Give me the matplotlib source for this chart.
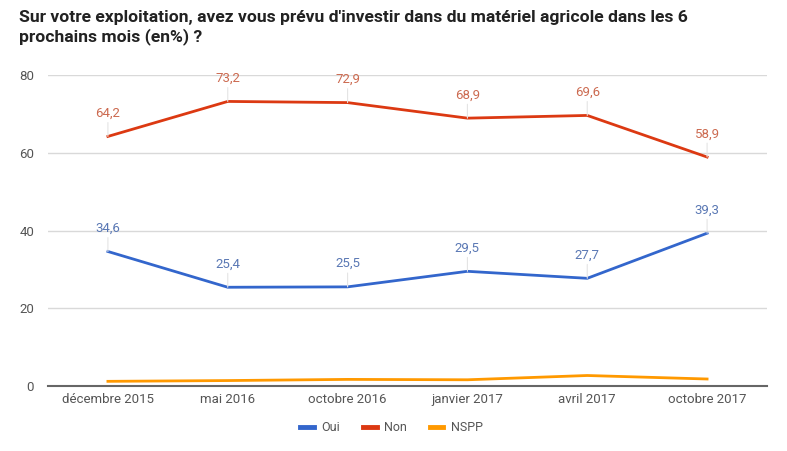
import matplotlib.pyplot as plt

# Data
periods = ["décembre 2015", "mai 2016", "octobre 2016", "janvier 2017", "avril 2017", "octobre 2017"]
oui = [34.6, 25.4, 25.5, 29.5, 27.7, 39.3]
non = [64.2, 73.2, 72.9, 68.9, 69.6, 58.9]
nspp = [1.2, 1.4, 1.7, 1.6, 2.7, 1.8]
yticks = [0, 20, 40, 60, 80]

plt.rcParams['font.family'] = ['Roboto', 'DejaVu Sans']

fig = plt.figure(figsize=(7.87, 4.51), dpi=100)
ax = fig.add_axes([48 / 787, 1 - 386 / 451, 719 / 787, 311 / 451])

x = list(range(len(periods)))
series = [
    ("Oui", oui, "#3366cc", "#5a78b4", True),
    ("Non", non, "#dc3912", "#cc6a50", True),
    ("NSPP", nspp, "#ff9900", "#ff9900", False),
]

for name, values, color, label_color, annotate in series:
    ax.plot(x, values, color=color, linewidth=2, label=name, zorder=3)
    if annotate:
        for xi, v in zip(x, values):
            ax.annotate(f"{v:.1f}".replace(".", ","), xy=(xi, v), xytext=(0, 12),
                        textcoords="offset points", ha="center", va="bottom",
                        fontsize=9.5, color=label_color, annotation_clip=False,
                        arrowprops=dict(arrowstyle="-", color="#e4e4e4", lw=0.8,
                                        shrinkA=0, shrinkB=0))

ax.set_xlim(-0.5, 5.5)
ax.set_ylim(0, 80)
ax.set_yticks(yticks)
ax.set_xticks(x)
ax.set_xticklabels(periods)
ax.tick_params(length=0, labelsize=9.5, labelcolor="#555555", pad=5)
ax.tick_params(axis="y", pad=10)
ax.grid(axis="y", color="#d9d9d9", linewidth=1)
ax.set_axisbelow(True)
for side in ["top", "right", "left"]:
    ax.spines[side].set_visible(False)
ax.spines["bottom"].set_color("#666666")
ax.spines["bottom"].set_linewidth(1.5)

fig.text(19 / 787, 1 - 10 / 451,
         "Sur votre exploitation, avez vous prévu d'investir dans du matériel agricole dans les 6\nprochains mois (en%) ?",
         fontsize=12.6, fontweight="bold", color="#222222", ha="left", va="top", linespacing=1.25)

leg = ax.legend(loc="center", bbox_to_anchor=(0.478, -0.135), ncol=3, frameon=False,
                fontsize=9, labelcolor="#555555", handlelength=1.1, handletextpad=0.6,
                columnspacing=1.8)
for line in leg.get_lines():
    line.set_linewidth(3.5)

fig.savefig("out.png", dpi=100)
